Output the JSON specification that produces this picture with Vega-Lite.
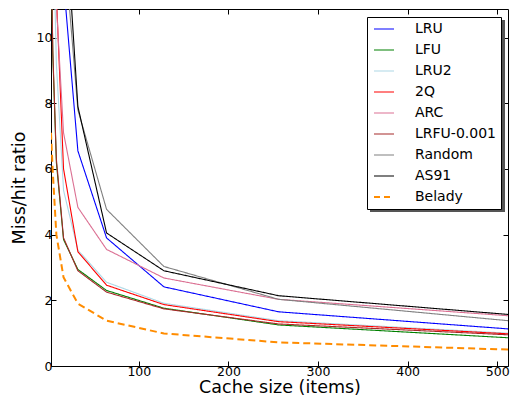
{
  "$schema": "https://vega.github.io/schema/vega-lite/v6.json",
  "width": 457,
  "height": 357,
  "autosize": {"type": "none"},
  "padding": {"left": 51, "top": 9, "right": 3, "bottom": 36},
  "background": "white",
  "config": {
    "view": {"stroke": "black", "strokeWidth": 1},
    "axis": {
      "domain": false, "grid": false, "tickColor": "black", "tickSize": -5, "tickWidth": 1,
      "labelFont": "DejaVu Sans", "labelFontSize": 12.5, "labelColor": "black",
      "titleFont": "DejaVu Sans", "titleFontSize": 17.5, "titleFontWeight": "normal", "titleColor": "black",
      "labelPadding": 4
    },
    "legend": {
      "orient": "none", "padding": 5, "cornerRadius": 0, "symbolType": "stroke", "symbolSize": 400,
      "symbolStrokeWidth": 1.2, "symbolOffset": 5, "labelFont": "DejaVu Sans", "labelFontSize": 14,
      "labelColor": "black", "rowPadding": 7, "labelOffset": 24, "title": null
    }
  },
  "data": {"values": [
    {"method": "LRU", "size": 2, "ratio": 40}, {"method": "LRU", "size": 4, "ratio": 30}, {"method": "LRU", "size": 8, "ratio": 20}, {"method": "LRU", "size": 16, "ratio": 11.7}, {"method": "LRU", "size": 32, "ratio": 6.55}, {"method": "LRU", "size": 64, "ratio": 3.9}, {"method": "LRU", "size": 128, "ratio": 2.41}, {"method": "LRU", "size": 256, "ratio": 1.65}, {"method": "LRU", "size": 512, "ratio": 1.13},
    {"method": "LFU", "size": 2, "ratio": 13}, {"method": "LFU", "size": 4, "ratio": 9.5}, {"method": "LFU", "size": 8, "ratio": 6.2}, {"method": "LFU", "size": 16, "ratio": 3.85}, {"method": "LFU", "size": 32, "ratio": 2.94}, {"method": "LFU", "size": 64, "ratio": 2.3}, {"method": "LFU", "size": 128, "ratio": 1.76}, {"method": "LFU", "size": 256, "ratio": 1.25}, {"method": "LFU", "size": 512, "ratio": 0.86},
    {"method": "LRU2", "size": 2, "ratio": 25}, {"method": "LRU2", "size": 4, "ratio": 14}, {"method": "LRU2", "size": 8, "ratio": 9.2}, {"method": "LRU2", "size": 16, "ratio": 5.35}, {"method": "LRU2", "size": 32, "ratio": 3.53}, {"method": "LRU2", "size": 64, "ratio": 2.55}, {"method": "LRU2", "size": 128, "ratio": 1.91}, {"method": "LRU2", "size": 256, "ratio": 1.38}, {"method": "LRU2", "size": 512, "ratio": 1.0},
    {"method": "2Q", "size": 2, "ratio": 25}, {"method": "2Q", "size": 4, "ratio": 16}, {"method": "2Q", "size": 8, "ratio": 11.3}, {"method": "2Q", "size": 16, "ratio": 6.0}, {"method": "2Q", "size": 32, "ratio": 3.48}, {"method": "2Q", "size": 64, "ratio": 2.46}, {"method": "2Q", "size": 128, "ratio": 1.87}, {"method": "2Q", "size": 256, "ratio": 1.35}, {"method": "2Q", "size": 512, "ratio": 0.98},
    {"method": "ARC", "size": 2, "ratio": 25}, {"method": "ARC", "size": 4, "ratio": 16}, {"method": "ARC", "size": 8, "ratio": 11.0}, {"method": "ARC", "size": 16, "ratio": 7.1}, {"method": "ARC", "size": 32, "ratio": 4.83}, {"method": "ARC", "size": 64, "ratio": 3.55}, {"method": "ARC", "size": 128, "ratio": 2.68}, {"method": "ARC", "size": 256, "ratio": 2.03}, {"method": "ARC", "size": 512, "ratio": 1.53},
    {"method": "LRFU-0.001", "size": 2, "ratio": 13}, {"method": "LRFU-0.001", "size": 4, "ratio": 9.6}, {"method": "LRFU-0.001", "size": 8, "ratio": 6.3}, {"method": "LRFU-0.001", "size": 16, "ratio": 3.9}, {"method": "LRFU-0.001", "size": 32, "ratio": 2.9}, {"method": "LRFU-0.001", "size": 64, "ratio": 2.25}, {"method": "LRFU-0.001", "size": 128, "ratio": 1.74}, {"method": "LRFU-0.001", "size": 256, "ratio": 1.28}, {"method": "LRFU-0.001", "size": 512, "ratio": 0.95},
    {"method": "Random", "size": 2, "ratio": 40}, {"method": "Random", "size": 4, "ratio": 30}, {"method": "Random", "size": 8, "ratio": 20}, {"method": "Random", "size": 16, "ratio": 13.1}, {"method": "Random", "size": 32, "ratio": 7.8}, {"method": "Random", "size": 64, "ratio": 4.77}, {"method": "Random", "size": 128, "ratio": 3.03}, {"method": "Random", "size": 256, "ratio": 2.03}, {"method": "Random", "size": 512, "ratio": 1.38},
    {"method": "AS91", "size": 2, "ratio": 40}, {"method": "AS91", "size": 4, "ratio": 30}, {"method": "AS91", "size": 8, "ratio": 22}, {"method": "AS91", "size": 16, "ratio": 14.7}, {"method": "AS91", "size": 32, "ratio": 7.9}, {"method": "AS91", "size": 64, "ratio": 4.05}, {"method": "AS91", "size": 128, "ratio": 2.9}, {"method": "AS91", "size": 256, "ratio": 2.14}, {"method": "AS91", "size": 512, "ratio": 1.57},
    {"method": "Belady", "size": 2, "ratio": 7.1}, {"method": "Belady", "size": 4, "ratio": 5.9}, {"method": "Belady", "size": 8, "ratio": 4.0}, {"method": "Belady", "size": 16, "ratio": 2.7}, {"method": "Belady", "size": 32, "ratio": 1.9}, {"method": "Belady", "size": 64, "ratio": 1.38}, {"method": "Belady", "size": 128, "ratio": 0.99}, {"method": "Belady", "size": 256, "ratio": 0.72}, {"method": "Belady", "size": 512, "ratio": 0.5}
  ]},
  "layer": [
    {
      "mark": {"type": "line", "clip": true},
      "encoding": {
        "x": {"field": "size", "type": "quantitative", "scale": {"domain": [2, 512], "nice": false, "zero": false},
              "axis": {"values": [100, 200, 300, 400, 500], "title": "Cache size (items)", "titlePadding": 1}},
        "y": {"field": "ratio", "type": "quantitative", "scale": {"domain": [0, 10.87], "nice": false},
              "axis": {"values": [0, 2, 4, 6, 8, 10], "title": "Miss/hit ratio", "titlePadding": 8}},
        "color": {"field": "method", "type": "nominal",
                  "scale": {"domain": ["LRU", "LFU", "LRU2", "2Q", "ARC", "LRFU-0.001", "Random", "AS91", "Belady"],
                            "range": ["#0000ff", "#008000", "#add8e6", "#ff0000", "#db7093", "#a52a2a", "#808080", "#000000", "#ff8c00"]},
                  "legend": {"title": null, "legendX": 316, "legendY": 8, "zindex": 2,
                             "fillColor": "white", "strokeColor": "black",
                             "encode": {"symbols": {"update": {
                               "strokeDash": {"signal": "datum.value === 'Belady' ? [6, 4] : [1, 0]"},
                               "strokeWidth": {"signal": "datum.value === 'Belady' ? 2 : 1.2"}}}}}},
        "strokeDash": {"condition": {"test": "datum.method === 'Belady'", "value": [7, 4]}, "value": [1, 0]},
        "strokeWidth": {"condition": {"test": "datum.method === 'Belady'", "value": 2}, "value": 1.1},
        "order": {"field": "size", "type": "quantitative"}
      }
    },
    {
      "mark": {"type": "point", "opacity": 0, "clip": true},
      "encoding": {
        "x": {"field": "size", "type": "quantitative", "scale": {"domain": [2, 512], "nice": false, "zero": false},
              "axis": {"orient": "top", "values": [100, 200, 300, 400, 500], "labels": false, "title": null}},
        "y": {"field": "ratio", "type": "quantitative", "scale": {"domain": [0, 10.87], "nice": false},
              "axis": {"orient": "right", "values": [0, 2, 4, 6, 8, 10], "labels": false, "title": null}},
        "fill": {"field": "ratio", "type": "quantitative",
                 "scale": {"range": ["#555555", "#555555"]},
                 "legend": {"type": "gradient", "direction": "vertical", "title": null,
                            "legendX": 319, "legendY": 11, "zindex": 1, "padding": 0,
                            "gradientLength": 192, "gradientThickness": 135,
                            "gradientStrokeWidth": 0, "values": [], "labelOpacity": 0}}
      }
    }
  ],
  "resolve": {"axis": {"x": "independent", "y": "independent"}}
}
